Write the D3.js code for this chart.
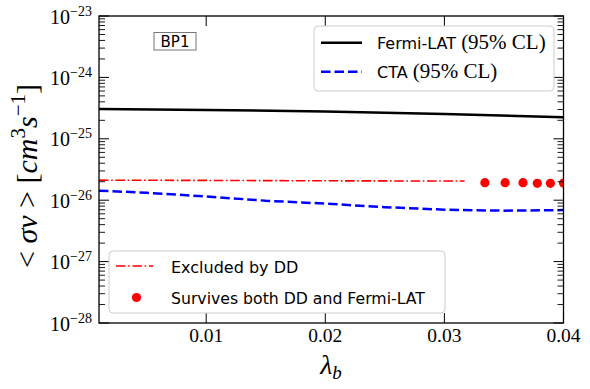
<!DOCTYPE html>
<html>
<head>
<meta charset="utf-8">
<script src="https://cdn.jsdelivr.net/npm/d3@7"></script>
<style>
  body { margin: 0; background: #fff; }
  svg { display: block; }
</style>
</head>
<body>
<div id="chart"></div>
<script>
// ----- data -----
const lambdaFermi = [0.001, 0.01, 0.02, 0.03, 0.04];
const sigmaFermi = [3.06e-25, 2.95e-25, 2.79e-25, 2.54e-25, 2.24e-25];

const lambdaCTA = [0.001, 0.005, 0.01, 0.015, 0.02, 0.025, 0.03, 0.035, 0.04];
const sigmaCTA = [1.43e-26, 1.32e-26, 1.15e-26, 9.8e-27, 8.8e-27, 7.7e-27, 7.0e-27, 6.75e-27, 6.9e-27];

const lambdaDD = [0.001, 0.01, 0.02, 0.0317];
const sigmaDD = [2.12e-26, 2.10e-26, 2.07e-26, 2.05e-26];

const lambdaSurv = [0.0334, 0.0351, 0.0366, 0.0378, 0.0389, 0.0400];
const sigmaSurv = [1.93e-26, 1.93e-26, 1.93e-26, 1.88e-26, 1.88e-26, 1.90e-26];

const xTicks = [0.01, 0.02, 0.03, 0.04];
const xTickLabels = ['0.01', '0.02', '0.03', '0.04'];
const yExps = [-23, -24, -25, -26, -27, -28];

const W = 590, H = 389;
const m = { left: 99, top: 16, right: 563.5, bottom: 323 };
const serif = '"Liberation Serif", "DejaVu Serif", serif';
const sans = '"DejaVu Sans", sans-serif';

const svg = d3.select('#chart').append('svg').attr('width', W).attr('height', H);

const x = d3.scaleLinear().domain([0.001, 0.04]).range([m.left, m.right]);
const y = d3.scaleLog().domain([1e-28, 1e-23]).range([m.bottom, m.top]);

svg.append('clipPath').attr('id', 'clip').append('rect')
    .attr('x', m.left).attr('y', m.top)
    .attr('width', m.right - m.left).attr('height', m.bottom - m.top);

const plot = svg.append('g').attr('clip-path', 'url(#clip)');

const line = d3.line().x(d => x(d[0])).y(d => y(d[1]));

// Fermi-LAT
plot.append('path')
    .attr('d', line(d3.zip(lambdaFermi, sigmaFermi)))
    .attr('fill', 'none').attr('stroke', '#000').attr('stroke-width', 2.5);

// CTA
plot.append('path')
    .attr('d', line(d3.zip(lambdaCTA, sigmaCTA)))
    .attr('fill', 'none').attr('stroke', '#0000ff').attr('stroke-width', 2.5)
    .attr('stroke-dasharray', '9.5,4');

// Excluded by DD
plot.append('path')
    .attr('d', line(d3.zip(lambdaDD, sigmaDD)))
    .attr('fill', 'none').attr('stroke', '#ff0000').attr('stroke-width', 1.6)
    .attr('stroke-dasharray', '9.6,2.6,1.6,2.6');

// Survives both
plot.selectAll('circle.surv')
    .data(d3.zip(lambdaSurv, sigmaSurv))
    .join('circle').attr('class', 'surv')
    .attr('cx', d => x(d[0])).attr('cy', d => y(d[1]))
    .attr('r', 4.6).attr('fill', '#ff0000');

// ----- axes: ticks inward on all four sides -----
const axes = svg.append('g').attr('stroke', '#000');

const minorY = [];
for (let e = -28; e < -23; e++) {
    for (let k = 2; k <= 9; k++) minorY.push(k * Math.pow(10, e));
}
yExps.forEach(e => {
    const yy = y(Math.pow(10, e));
    axes.append('line').attr('x1', m.left).attr('x2', m.left + 10).attr('y1', yy).attr('y2', yy).attr('stroke-width', 1);
    axes.append('line').attr('x1', m.right).attr('x2', m.right - 10).attr('y1', yy).attr('y2', yy).attr('stroke-width', 1);
});
minorY.forEach(v => {
    const yy = y(v);
    axes.append('line').attr('x1', m.left).attr('x2', m.left + 6).attr('y1', yy).attr('y2', yy).attr('stroke-width', 0.9);
    axes.append('line').attr('x1', m.right).attr('x2', m.right - 6).attr('y1', yy).attr('y2', yy).attr('stroke-width', 0.9);
});
xTicks.forEach(v => {
    const xx = x(v);
    axes.append('line').attr('x1', xx).attr('x2', xx).attr('y1', m.bottom).attr('y2', m.bottom - 10).attr('stroke-width', 1);
    axes.append('line').attr('x1', xx).attr('x2', xx).attr('y1', m.top).attr('y2', m.top + 10).attr('stroke-width', 1);
});

svg.append('rect')
    .attr('x', m.left).attr('y', m.top)
    .attr('width', m.right - m.left).attr('height', m.bottom - m.top)
    .attr('fill', 'none').attr('stroke', '#000').attr('stroke-width', 1.3);

// tick labels
const yLab = svg.append('g').attr('font-family', serif).attr('fill', '#000');
yExps.forEach(e => {
    const t = yLab.append('text')
        .attr('x', 92).attr('y', y(Math.pow(10, e)) + 7.5)
        .attr('text-anchor', 'end').attr('font-size', 20);
    t.append('tspan').text('10');
    t.append('tspan').attr('font-size', 14).attr('dy', -8).text('\u2212' + Math.abs(e));
});

svg.append('g').selectAll('text')
    .data(xTicks)
    .join('text')
    .attr('x', d => x(d)).attr('y', 342)
    .attr('text-anchor', 'middle')
    .attr('font-family', serif).attr('font-size', 19.5)
    .text((d, i) => xTickLabels[i]);

// axis titles
const xt = svg.append('text')
    .attr('x', 331).attr('y', 374)
    .attr('text-anchor', 'middle')
    .attr('font-family', serif).attr('font-size', 28).attr('font-style', 'italic');
xt.append('tspan').text('\u03bb');
xt.append('tspan').attr('font-size', 19).attr('dy', 5).text('b');

const yt = svg.append('text')
    .attr('transform', 'translate(37,176) rotate(-90)')
    .attr('text-anchor', 'middle')
    .attr('font-family', serif).attr('font-size', 30);
yt.append('tspan').text('< ');
yt.append('tspan').attr('font-style', 'italic').text('\u03c3v');
yt.append('tspan').text(' > [');
yt.append('tspan').attr('font-style', 'italic').text('cm');
yt.append('tspan').attr('font-size', 21).attr('dy', -12).text('3');
yt.append('tspan').attr('font-style', 'italic').attr('dy', 12).text('s');
yt.append('tspan').attr('font-size', 21).attr('dy', -12).text('\u22121');
yt.append('tspan').attr('dy', 12).text(']');

// BP1 label
svg.append('rect')
    .attr('x', 154).attr('y', 32.5).attr('width', 42).attr('height', 17.5)
    .attr('fill', '#fff').attr('stroke', '#777').attr('stroke-width', 1);
svg.append('text')
    .attr('x', 175).attr('y', 46.5)
    .attr('text-anchor', 'middle')
    .attr('font-family', sans).attr('font-size', 15)
    .text('BP1');

// ----- legend 1 -----
const leg1 = svg.append('g');
leg1.append('rect')
    .attr('x', 314).attr('y', 26).attr('width', 240).attr('height', 65).attr('rx', 4)
    .attr('fill', '#fff').attr('fill-opacity', 0.8).attr('stroke', '#ccc').attr('stroke-width', 1);
leg1.append('line').attr('x1', 321).attr('x2', 362).attr('y1', 42.7).attr('y2', 42.7)
    .attr('stroke', '#000').attr('stroke-width', 2.5);
leg1.append('line').attr('x1', 321).attr('x2', 362).attr('y1', 71.7).attr('y2', 71.7)
    .attr('stroke', '#0000ff').attr('stroke-width', 2.5).attr('stroke-dasharray', '9.5,4');
[['Fermi-LAT', 49], ['CTA', 78]].forEach(([name, by]) => {
    const t = leg1.append('text').attr('x', 377).attr('y', by).attr('font-size', 16);
    t.append('tspan').attr('font-family', sans).text(name + ' ');
    t.append('tspan').attr('font-family', serif).attr('font-size', 21).text('(95% CL)');
});

// ----- legend 2 -----
const leg2 = svg.append('g');
leg2.append('rect')
    .attr('x', 109).attr('y', 251).attr('width', 336).attr('height', 62).attr('rx', 4)
    .attr('fill', '#fff').attr('fill-opacity', 0.8).attr('stroke', '#ccc').attr('stroke-width', 1);
leg2.append('line').attr('x1', 116).attr('x2', 153).attr('y1', 266).attr('y2', 266)
    .attr('stroke', '#ff0000').attr('stroke-width', 1.6).attr('stroke-dasharray', '9.6,2.6,1.6,2.6');
leg2.append('circle').attr('cx', 136.5).attr('cy', 297.5).attr('r', 4.6).attr('fill', '#ff0000');
leg2.append('text').attr('x', 171).attr('y', 272.5)
    .attr('font-family', sans).attr('font-size', 16).text('Excluded by DD');
leg2.append('text').attr('x', 171).attr('y', 303.5)
    .attr('font-family', sans).attr('font-size', 15.7).text('Survives both DD and Fermi-LAT');
</script>
</body>
</html>
